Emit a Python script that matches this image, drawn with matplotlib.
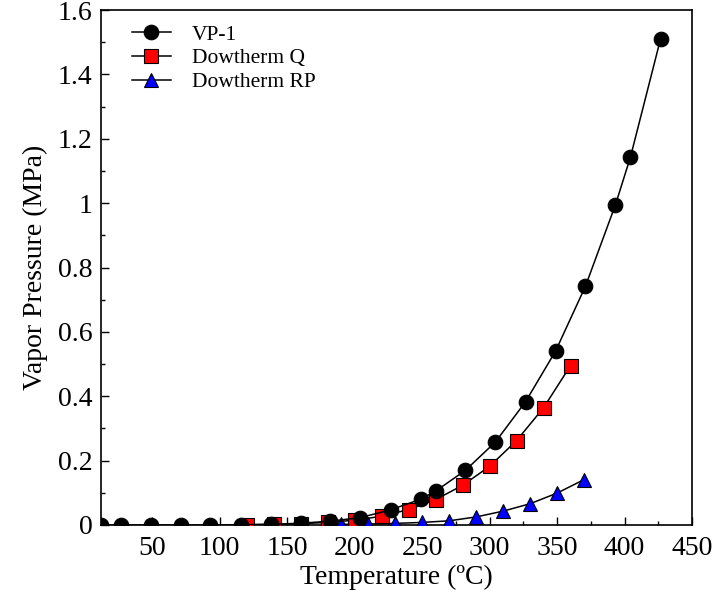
import matplotlib
matplotlib.use("Agg")
import matplotlib.pyplot as plt
from matplotlib.ticker import MultipleLocator, FuncFormatter

plt.rcParams['font.family'] = ['Liberation Serif', 'DejaVu Serif']
plt.rcParams['mathtext.fontset'] = 'stix'

# ---- data ----
vp1_T = [12.2, 26.7, 48.9, 71.1, 93.3, 115.6, 137.8, 160.0, 182.2, 204.4,
         226.7, 248.9, 260.0, 282.2, 304.4, 326.7, 348.9, 371.1, 393.3, 404.4, 426.7]
vp1_P = [0.0, 0.0, 0.0, 0.00005, 0.0002, 0.0008, 0.002, 0.0055, 0.012, 0.023,
         0.047, 0.080, 0.105, 0.170, 0.258, 0.383, 0.540, 0.742, 0.995, 1.143, 1.510]

dq_T = [120, 140, 160, 180, 200, 220, 240, 260, 280, 300, 320, 340, 360]
dq_P = [0.001, 0.002, 0.004, 0.008, 0.015, 0.027, 0.048, 0.079, 0.123, 0.182, 0.262, 0.364, 0.495]

drp_T = [190, 210, 230, 250, 270, 290, 310, 330, 350, 370]
drp_P = [0.002, 0.003, 0.005, 0.008, 0.013, 0.025, 0.043, 0.066, 0.099, 0.141]

series_labels = ['VP-1', 'Dowtherm Q', 'Dowtherm RP']
x_label = 'Temperature (ºC)'
y_label = 'Vapor Pressure (MPa)'

W, H = 713, 596
fig = plt.figure(figsize=(W / 100, H / 100), dpi=100)
L, R, T, B = 101, 692, 10, 525
ax = fig.add_axes([L / W, 1 - B / H, (R - L) / W, (B - T) / H])

common = dict(color='black', lw=1.1, markeredgecolor='black', markeredgewidth=0.8)
ax.plot(vp1_T, vp1_P, marker='o', markersize=10.5, markerfacecolor='black',
        label=series_labels[0], zorder=5, **common)
ax.plot(dq_T, dq_P, marker='s', markersize=9.5, markerfacecolor='#ff0000',
        label=series_labels[1], zorder=4, **common)
ax.plot(drp_T, drp_P, marker='^', markersize=10, markerfacecolor='#0000ff',
        label=series_labels[2], zorder=3, **common)

ax.set_xlim(12.2, 450)
ax.set_ylim(0, 1.6)

ax.xaxis.set_major_locator(MultipleLocator(50))
ax.xaxis.set_minor_locator(MultipleLocator(25))
ax.yaxis.set_major_locator(MultipleLocator(0.2))
ax.yaxis.set_minor_locator(MultipleLocator(0.1))
ax.yaxis.set_major_formatter(FuncFormatter(lambda v, p: ('%g' % round(v, 2))))

ax.tick_params(which='both', direction='in', top=False, right=False, width=1.0)
ax.tick_params(which='major', length=5.5, labelsize=20)
ax.tick_params(axis='x', which='major', pad=8)
ax.tick_params(axis='y', which='major', pad=6)
ax.tick_params(which='minor', length=3)
for s in ax.spines.values():
    s.set_linewidth(1.2)

ax.set_xlabel(x_label, fontsize=20, labelpad=3)
ax.set_ylabel(y_label, fontsize=20, labelpad=7)

ax.legend(loc='upper left', bbox_to_anchor=(0.045, 0.98), frameon=False,
          fontsize=15.5, handlelength=1.8, handletextpad=1.0, labelspacing=0.17,
          borderpad=0.2, borderaxespad=0)

fig.savefig('out.png', dpi=100)
